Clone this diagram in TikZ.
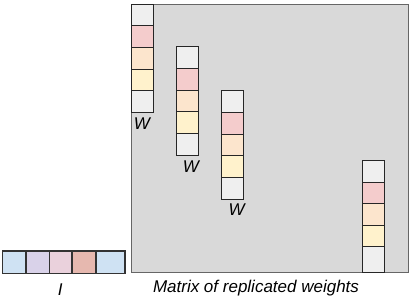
\documentclass[tikz,border=0pt]{standalone}
\usepackage{fontspec}
\setmainfont{Liberation Sans}
\definecolor{matgray}{HTML}{D9D9D9}
\definecolor{matline}{HTML}{666666}
\definecolor{wgray}{HTML}{EFEFEF}
\definecolor{wpink}{HTML}{F4CCCC}
\definecolor{wpeach}{HTML}{FCE5CD}
\definecolor{wyellow}{HTML}{FFF2CC}
\definecolor{vblue}{HTML}{CFE2F3}
\definecolor{vlav}{HTML}{D9D2E9}
\definecolor{vpink}{HTML}{EAD1DC}
\definecolor{vsalmon}{HTML}{E6B8AF}
\begin{document}
\begin{tikzpicture}[x=1pt,y=-1pt,
  cell/.style={draw=black!85, line width=1pt, minimum width=22pt, minimum height=21.7pt,
    inner sep=0pt, outer sep=0pt, anchor=north west},
  vcell/.style={draw=black!80, line width=1.3pt, minimum height=22.3pt,
    inner sep=0pt, outer sep=0pt, anchor=north west},
  lbl/.style={font=\itshape\fontsize{17}{20}\selectfont, anchor=base, inner sep=0pt}]
\useasboundingbox (0,0) rectangle (415,298);
% matrix background
\node[draw=matline, line width=1pt, fill=matgray, minimum width=276.5pt, minimum height=268.5pt,
  inner sep=0pt, outer sep=0pt, anchor=north west] (M) at (131.5,4) {};
% weight columns
\foreach \c/\x/\y in {1/131.5/4, 2/176/46.7, 3/221/90.7}{
  \foreach \i/\col in {1/wgray,2/wpink,3/wpeach,4/wyellow,5/wgray}{
    \node[cell, fill=\col] (c\c-\i) at (\x,{\y+(\i-1)*21.7}) {};
  }
}
\foreach \i/\col in {1/wgray,2/wpink,3/wpeach,4/wyellow}{
  \node[cell, fill=\col] (c4-\i) at (362.7,{160.7+(\i-1)*21.5}) {};
}
\node[cell, fill=wgray, minimum height=25.8pt] (c4-5) at (362.7,246.7) {};
% labels W
\node[lbl] (w1) at (142,129) {W};
\node[lbl] (w2) at (191,172.3) {W};
\node[lbl] (w3) at (236.7,215.7) {W};
% input vector
\node[vcell, fill=vblue, minimum width=23.3pt] (v1) at (2.7,251) {};
\node[vcell, fill=vlav, minimum width=23.3pt] (v2) at (26,251) {};
\node[vcell, fill=vpink, minimum width=22.7pt] (v3) at (49.3,251) {};
\node[vcell, fill=vsalmon, minimum width=24pt] (v4) at (72,251) {};
\node[vcell, fill=vblue, minimum width=29pt] (v5) at (96,251) {};
\node[lbl] (Ilbl) at (60.3,295) {I};
\node[lbl] (cap) at (256,292.7) {Matrix of replicated weights};
\end{tikzpicture}
\end{document}
